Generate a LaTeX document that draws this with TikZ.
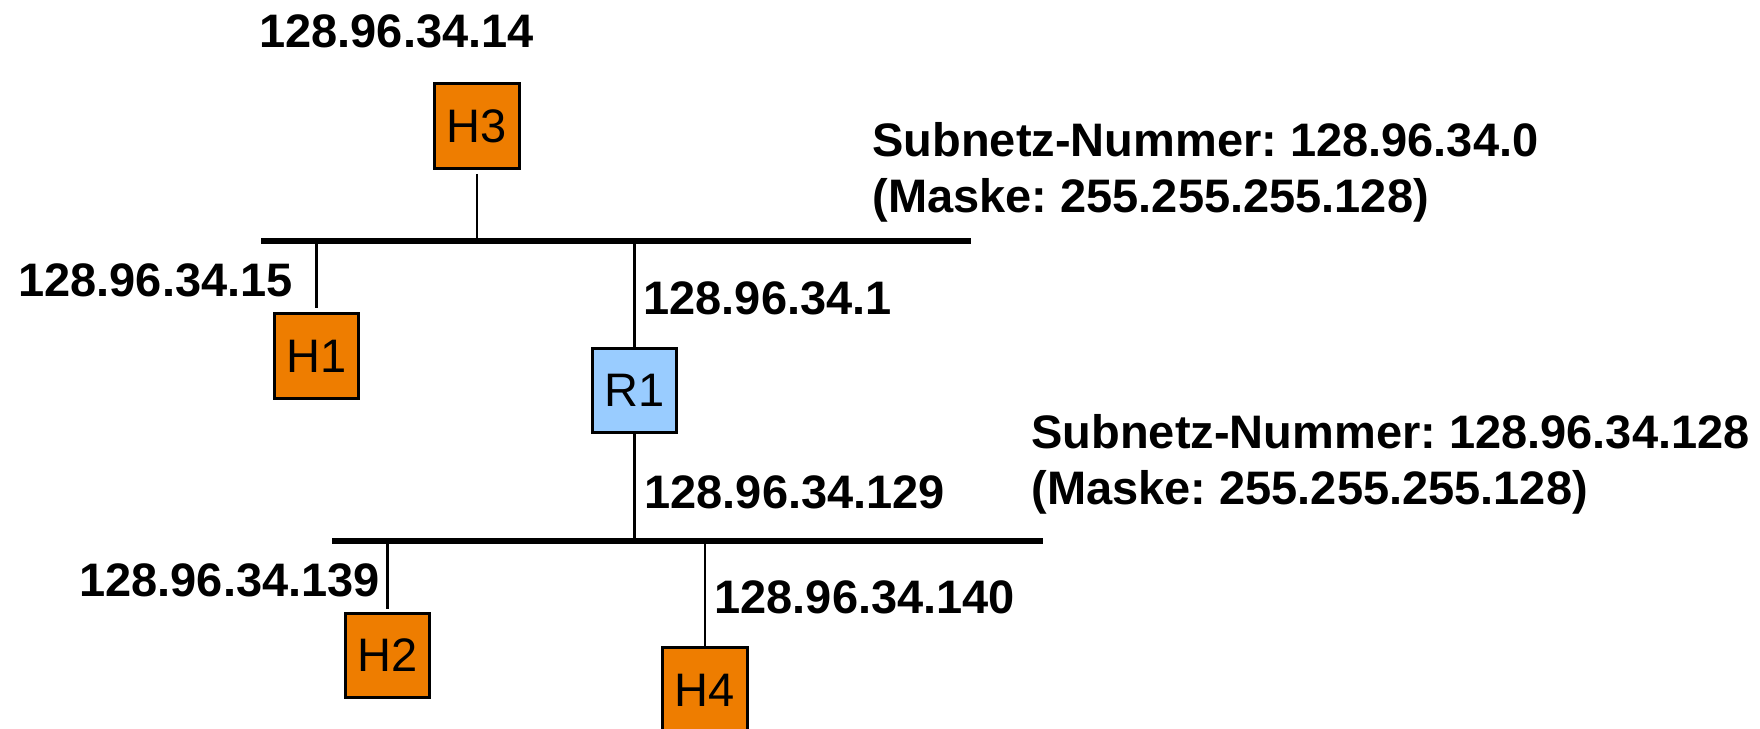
\documentclass[tikz,border=0pt]{standalone}
\usepackage{fontspec}
\setmainfont{Liberation Sans}
\definecolor{hostorange}{RGB}{238,125,0}
\definecolor{routerblue}{RGB}{153,204,255}

\begin{document}
\frenchspacing
\begin{tikzpicture}[x=0.5pt,y=-0.5pt,
  box/.style={draw=black, line width=1.5pt, minimum width=42.3pt, minimum height=42.3pt,
              inner sep=0pt, font=\fontsize{23.5}{28}\selectfont},
  host/.style={box, fill=hostorange},
  router/.style={box, fill=routerblue},
  bus/.style={line width=3pt},
  tap/.style={line width=1.4pt},
  ip/.style={inner sep=0pt, anchor=base west, font=\fontsize{23.5}{28}\selectfont\bfseries}
]
\useasboundingbox (0,0) rectangle (1760,728);

% devices
\node[host]   (H3) at (477,126)     {H3};
\node[host]   (H1) at (316.5,356)   {H1};
\node[router] (R1) at (634.5,390.5) {R1};
\node[host]   (H2) at (387.5,655.5) {H2};
\node[host]   (H4) at (705,690)     {H4};

% subnet 128.96.34.0
\coordinate (b1w) at (261,241.3);
\coordinate (b1e) at (971,241.3);
\coordinate (t3)  at (477,241.3);
\coordinate (t1)  at (316.5,241.3);
\coordinate (tr1) at (634.5,241.3);
\draw[bus] (b1w) -- (b1e);
\draw[tap, shorten <=2pt] (H3) -- (t3);
\draw[tap, shorten >=2pt] (t1) -- (H1);
\draw[tap] (tr1) -- (R1);

% subnet 128.96.34.128
\coordinate (b2w) at (332,541);
\coordinate (b2e) at (1043,541);
\coordinate (tr2) at (634.5,541);
\coordinate (t2)  at (387.5,541);
\coordinate (t4)  at (705,541);
\draw[bus] (b2w) -- (b2e);
\draw[tap] (R1) -- (tr2);
\draw[tap, shorten >=1.5pt] (t2) -- (H2);
\draw[tap] (t4) -- (H4);

% interface addresses
\node[ip] (a14)  at (259,47)  {128.96.34.14};
\node[ip] (a15)  at (18,296)  {128.96.34.15};
\node[ip] (a1)   at (643,314) {128.96.34.1};
\node[ip] (a129) at (644,508) {128.96.34.129};
\node[ip] (a139) at (79,596)  {128.96.34.139};
\node[ip] (a140) at (714,613) {128.96.34.140};

% subnet captions
\node[ip] (n1a) at (872,156)  {Subnetz-Nummer: 128.96.34.0};
\node[ip] (n1b) at (872,212)  {(Maske: 255.255.255.128)};
\node[ip] (n2a) at (1031,448) {Subnetz-Nummer: 128.96.34.128};
\node[ip] (n2b) at (1031,504) {(Maske: 255.255.255.128)};
\end{tikzpicture}
\end{document}
